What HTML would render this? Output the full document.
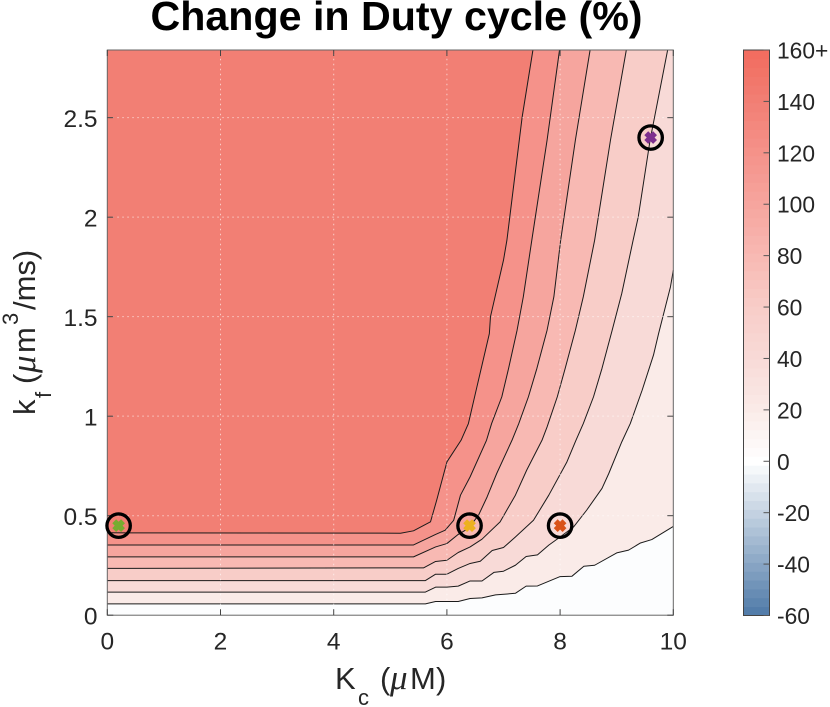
<!DOCTYPE html>
<html lang="en">
<head>
<meta charset="utf-8">
<title>Change in Duty cycle (%)</title>
<style>
html,body{margin:0;padding:0;background:#fff;}
svg{display:block;font-family:"Liberation Sans",sans-serif;}
text{fill:#262626;}
</style>
</head>
<body>
<svg id="chart" width="830" height="707" viewBox="0 0 830 707" xmlns="http://www.w3.org/2000/svg">
  <text x="396.5" y="30" text-anchor="middle" font-size="41.2" font-weight="bold" style="fill:#000">Change in Duty cycle (%)</text>
  <g id="plot"></g>
  <g id="colorbar"></g>
  <g>
    <text x="335" y="689" font-size="31">K</text>
    <text x="358" y="705" font-size="22">c</text>
    <text x="380" y="689" font-size="31">(</text>
    <text x="390" y="689" font-size="35" font-style="italic" font-family="Liberation Serif, serif">μ</text>
    <text x="410" y="689" font-size="31">M</text>
    <text x="436" y="689" font-size="31">)</text>
  </g>
  <g transform="translate(35,415) rotate(-90)">
    <text x="0" y="0" font-size="31">k</text>
    <text x="17" y="16" font-size="22">f</text>
    <text x="31" y="0" font-size="31">(</text>
    <text x="42" y="0" font-size="35" font-style="italic" font-family="Liberation Serif, serif">μ</text>
    <text x="62" y="0" font-size="31">m</text>
    <text x="90" y="-17" font-size="22">3</text>
    <text x="105" y="0" font-size="31">/ms)</text>
  </g>
</svg>
<script>
// Axis ranges and ticks
const xDomain = [0, 10];
const yDomain = [0, 2.84];
const xTicks = [0, 2, 4, 6, 8, 10];
const yTicks = [0, 0.5, 1, 1.5, 2, 2.5];
const yTickLabels = ["0", "0.5", "1", "1.5", "2", "2.5"];
const cbDomain = [-60, 160];
const cbTicks = [-60, -40, -20, 0, 20, 40, 60, 80, 100, 120, 140, 160];
const cbTickLabels = ["-60", "-40", "-20", "0", "20", "40", "60", "80", "100", "120", "140", "160+"];

// Colour scale stops, positive side
const posStopValues = [0, 20, 40, 60, 80, 100, 120, 140, 160];
const posStopColors = [[255,255,255],[250,235,232],[248,218,215],[248,205,200],[248,185,179],[246,165,158],[245,146,138],[242,127,116],[242,107,94]];

// Contour levels (percent change) and their traced lines (Kc, kf)
const baseLevel = -1;
const levels = [20, 40, 60, 80, 100, 120, 140];
const kc20 = [0, 5.62, 5.8, 6.2, 6.41, 6.62, 6.86, 7.21, 7.4, 7.6, 8, 8.21, 8.42, 8.61, 9, 9.21, 9.42, 9.62, 10];
const kf20 = [0.057, 0.057, 0.069, 0.069, 0.084, 0.087, 0.102, 0.11, 0.146, 0.147, 0.194, 0.196, 0.246, 0.251, 0.313, 0.327, 0.363, 0.38, 0.446];
const kc40 = [0, 5.62, 5.8, 6, 6.2, 6.41, 6.62, 6.83, 7, 7.21, 7.4, 7.6, 7.8, 8, 8.24, 8.47, 8.74, 8.86, 9.09, 9.24, 9.45, 9.65, 9.74, 9.86, 9.95, 10];
const kf40 = [0.116, 0.116, 0.141, 0.141, 0.146, 0.172, 0.172, 0.215, 0.221, 0.251, 0.295, 0.303, 0.352, 0.393, 0.444, 0.528, 0.637, 0.712, 0.871, 0.963, 1.131, 1.307, 1.415, 1.549, 1.65, 1.733];
const kc60 = [0, 5.62, 5.8, 6, 6.2, 6.41, 6.59, 6.8, 7, 7.21, 7.53, 7.8, 8.12, 8.28, 8.41, 8.59, 8.74, 8.92, 9.09, 9.29, 9.38, 9.59, 9.9];
const kf60 = [0.174, 0.174, 0.206, 0.206, 0.235, 0.26, 0.271, 0.325, 0.34, 0.393, 0.477, 0.603, 0.77, 0.879, 0.963, 1.097, 1.24, 1.432, 1.617, 1.884, 2, 2.387, 2.84];
const kc80 = [0, 5.59, 5.8, 6, 6.2, 6.41, 6.62, 6.94, 7.21, 7.41, 7.68, 7.77, 7.95, 8.09, 8.27, 8.41, 8.61, 8.89, 9.17];
const kf80 = [0.235, 0.238, 0.27, 0.276, 0.315, 0.343, 0.382, 0.469, 0.603, 0.729, 0.879, 0.946, 1.097, 1.24, 1.432, 1.6, 1.884, 2.387, 2.84];
const kc100 = [0, 5.41, 5.8, 6, 6.2, 6.38, 6.56, 6.71, 6.88, 7.15, 7.27, 7.44, 7.59, 7.77, 7.89, 8.01, 8.27, 8.53];
const kf100 = [0.293, 0.293, 0.343, 0.36, 0.406, 0.436, 0.503, 0.594, 0.712, 0.879, 0.963, 1.097, 1.24, 1.432, 1.6, 1.884, 2.387, 2.84];
const kc120 = [0, 5.41, 5.8, 5.97, 6.12, 6.24, 6.41, 6.7, 6.79, 6.97, 7.09, 7.24, 7.35, 7.5, 7.77, 7.99];
const kf120 = [0.353, 0.353, 0.406, 0.427, 0.477, 0.603, 0.695, 0.879, 0.963, 1.097, 1.24, 1.432, 1.6, 1.884, 2.387, 2.84];
const kc140 = [0, 5.18, 5.41, 5.71, 5.82, 6, 6.25, 6.38, 6.53, 6.75, 6.77, 7, 7.06, 7.33, 7.52];
const kf140 = [0.414, 0.412, 0.424, 0.469, 0.578, 0.77, 0.879, 0.963, 1.147, 1.415, 1.5, 1.784, 1.884, 2.504, 2.84];
const contourKc = [kc20, kc40, kc60, kc80, kc100, kc120, kc140];
const contourKf = [kf20, kf40, kf60, kf80, kf100, kf120, kf140];

// Highlighted parameter points
const pointKc = [0.2, 6.4, 8, 9.6];
const pointKf = [0.45, 0.45, 0.45, 2.4];
const pointColors = ["#77AC30", "#EDB120", "#D95319", "#7E2F8E"];
const pointNames = ["green", "yellow", "orange", "purple"];

const NS = "http://www.w3.org/2000/svg";
const plot = document.getElementById("plot");
const colorbar = document.getElementById("colorbar");

const X0 = 107.3, X1 = 673.3, Y0 = 615.2, Y1 = 50;
const sx = v => X0 + (v - xDomain[0]) / (xDomain[1] - xDomain[0]) * (X1 - X0);
const sy = v => Y0 - (v - yDomain[0]) / (yDomain[1] - yDomain[0]) * (Y0 - Y1);
const CX0 = 743.5, CX1 = 769.5, CY0 = 615.5, CY1 = 50;
const sc = v => CY0 - (v - cbDomain[0]) / (cbDomain[1] - cbDomain[0]) * (CY0 - CY1);

function colorOf(v) {
  if (v < 0) {
    const lo = [78, 121, 167];
    const t = Math.min(1, -v / 60);
    return "rgb(" + lo.map(e => Math.round(255 + (e - 255) * t)).join(",") + ")";
  }
  const n = posStopValues.length;
  let i = 0;
  while (i < n - 2 && v > posStopValues[i + 1]) i++;
  const t = Math.min(1, (v - posStopValues[i]) / (posStopValues[i + 1] - posStopValues[i]));
  const a = posStopColors[i], b = posStopColors[i + 1];
  return "rgb(" + a.map((c, k) => Math.round(c + (b[k] - c) * t)).join(",") + ")";
}
function make(tag, attrs, parent) {
  const el = document.createElementNS(NS, tag);
  for (const k in attrs) el.setAttribute(k, attrs[k]);
  parent.appendChild(el);
  return el;
}

// Filled bands, painted from lowest level up
const base = make("rect", {x: X0, y: Y1, width: X1 - X0, height: Y0 - Y1, fill: colorOf(baseLevel)}, plot);



levels.forEach((lev, i) => {
  const pts = contourKc[i].map((k, j) => [k, contourKf[i][j]]);
  const closing = [];
  const last = pts[pts.length - 1];
  if (last[0] >= xDomain[1]) closing.push([xDomain[1], yDomain[1]]);
  closing.push([xDomain[0], yDomain[1]]);
  const all = pts.concat(closing);
  const poly = make("polygon", {
    points: all.map(p => sx(p[0]).toFixed(2) + "," + sy(p[1]).toFixed(2)).join(" "),
    fill: colorOf(lev)
  }, plot);
  
  
});

// Contour lines
levels.forEach((lev, i) => {
  const line = make("polyline", {
    points: contourKc[i].map((k, j) => sx(k).toFixed(2) + "," + sy(contourKf[i][j]).toFixed(2)).join(" "),
    fill: "none", stroke: "#1a1a1a", "stroke-width": 1, "stroke-linejoin": "round"
  }, plot);
  
  
});

// Dotted grid
xTicks.slice(1, -1).forEach(t => {
  const g = make("line", {x1: sx(t), x2: sx(t), y1: Y0, y2: Y1, stroke: "#fff", "stroke-opacity": 0.6, "stroke-width": 1, "stroke-dasharray": "1.5 3.5"}, plot);
  
  
});
yTicks.slice(1).forEach(t => {
  const g = make("line", {x1: X0, x2: X1, y1: sy(t), y2: sy(t), stroke: "#fff", "stroke-opacity": 0.6, "stroke-width": 1, "stroke-dasharray": "1.5 3.5"}, plot);
  
  
});

// Axes box
const box = make("rect", {x: X0, y: Y1, width: X1 - X0, height: Y0 - Y1, fill: "none", stroke: "#666", "stroke-width": 1}, plot);



// Ticks and tick labels
xTicks.forEach(t => {
  [[Y0, Y0 - 6], [Y1, Y1 + 6]].forEach(e => {
    const tk = make("line", {x1: sx(t), x2: sx(t), y1: e[0], y2: e[1], stroke: "#444", "stroke-width": 1}, plot);
    
    
  });
  const lb = make("text", {x: sx(t), y: 649.3, "text-anchor": "middle", "font-size": 24.5}, plot);
  lb.textContent = String(t);
  
  
});
yTicks.forEach((t, i) => {
  [[X0, X0 + 6], [X1, X1 - 6]].forEach(e => {
    const tk = make("line", {x1: e[0], x2: e[1], y1: sy(t), y2: sy(t), stroke: "#444", "stroke-width": 1}, plot);
    
    
  });
  const lb = make("text", {x: 97.5, y: sy(t) + 9.5, "text-anchor": "end", "font-size": 24.5}, plot);
  lb.textContent = yTickLabels[i];
  
  
});

// Highlighted points
pointKc.forEach((k, i) => {
  const cx = sx(k), cy = sy(pointKf[i]);
  const g = make("g", {}, plot);
  
  
  make("circle", {cx: cx, cy: cy, r: 11.7, fill: "none", stroke: "#000", "stroke-width": 3.3}, g);
  const d = 4.4;
  make("line", {x1: cx - d, y1: cy - d, x2: cx + d, y2: cy + d, stroke: pointColors[i], "stroke-width": 5.5}, g);
  make("line", {x1: cx - d, y1: cy + d, x2: cx + d, y2: cy - d, stroke: pointColors[i], "stroke-width": 5.5}, g);
});

// Colorbar: 64 discrete colour steps
const cbSteps = 64;
for (let i = 0; i < cbSteps; i++) {
  const a = cbDomain[0] + (cbDomain[1] - cbDomain[0]) * i / cbSteps;
  const b = cbDomain[0] + (cbDomain[1] - cbDomain[0]) * (i + 1) / cbSteps;
  const step = make("rect", {x: CX0, y: sc(b), width: CX1 - CX0, height: sc(a) - sc(b) + 0.4, fill: colorOf((a + b) / 2)}, colorbar);
  
  
}
const cbBox = make("rect", {x: CX0, y: CY1, width: CX1 - CX0, height: CY0 - CY1, fill: "none", stroke: "#444", "stroke-width": 1}, colorbar);


cbTicks.forEach((t, i) => {
  const tk = make("line", {x1: CX1, x2: CX1 - 6, y1: sc(t), y2: sc(t), stroke: "#555", "stroke-width": 1}, colorbar);
  
  
  const lb = make("text", {x: 777, y: sc(t) + 8.5, "font-size": 22.8}, colorbar);
  lb.textContent = cbTickLabels[i];
  
  
});
</script>
</body>
</html>
